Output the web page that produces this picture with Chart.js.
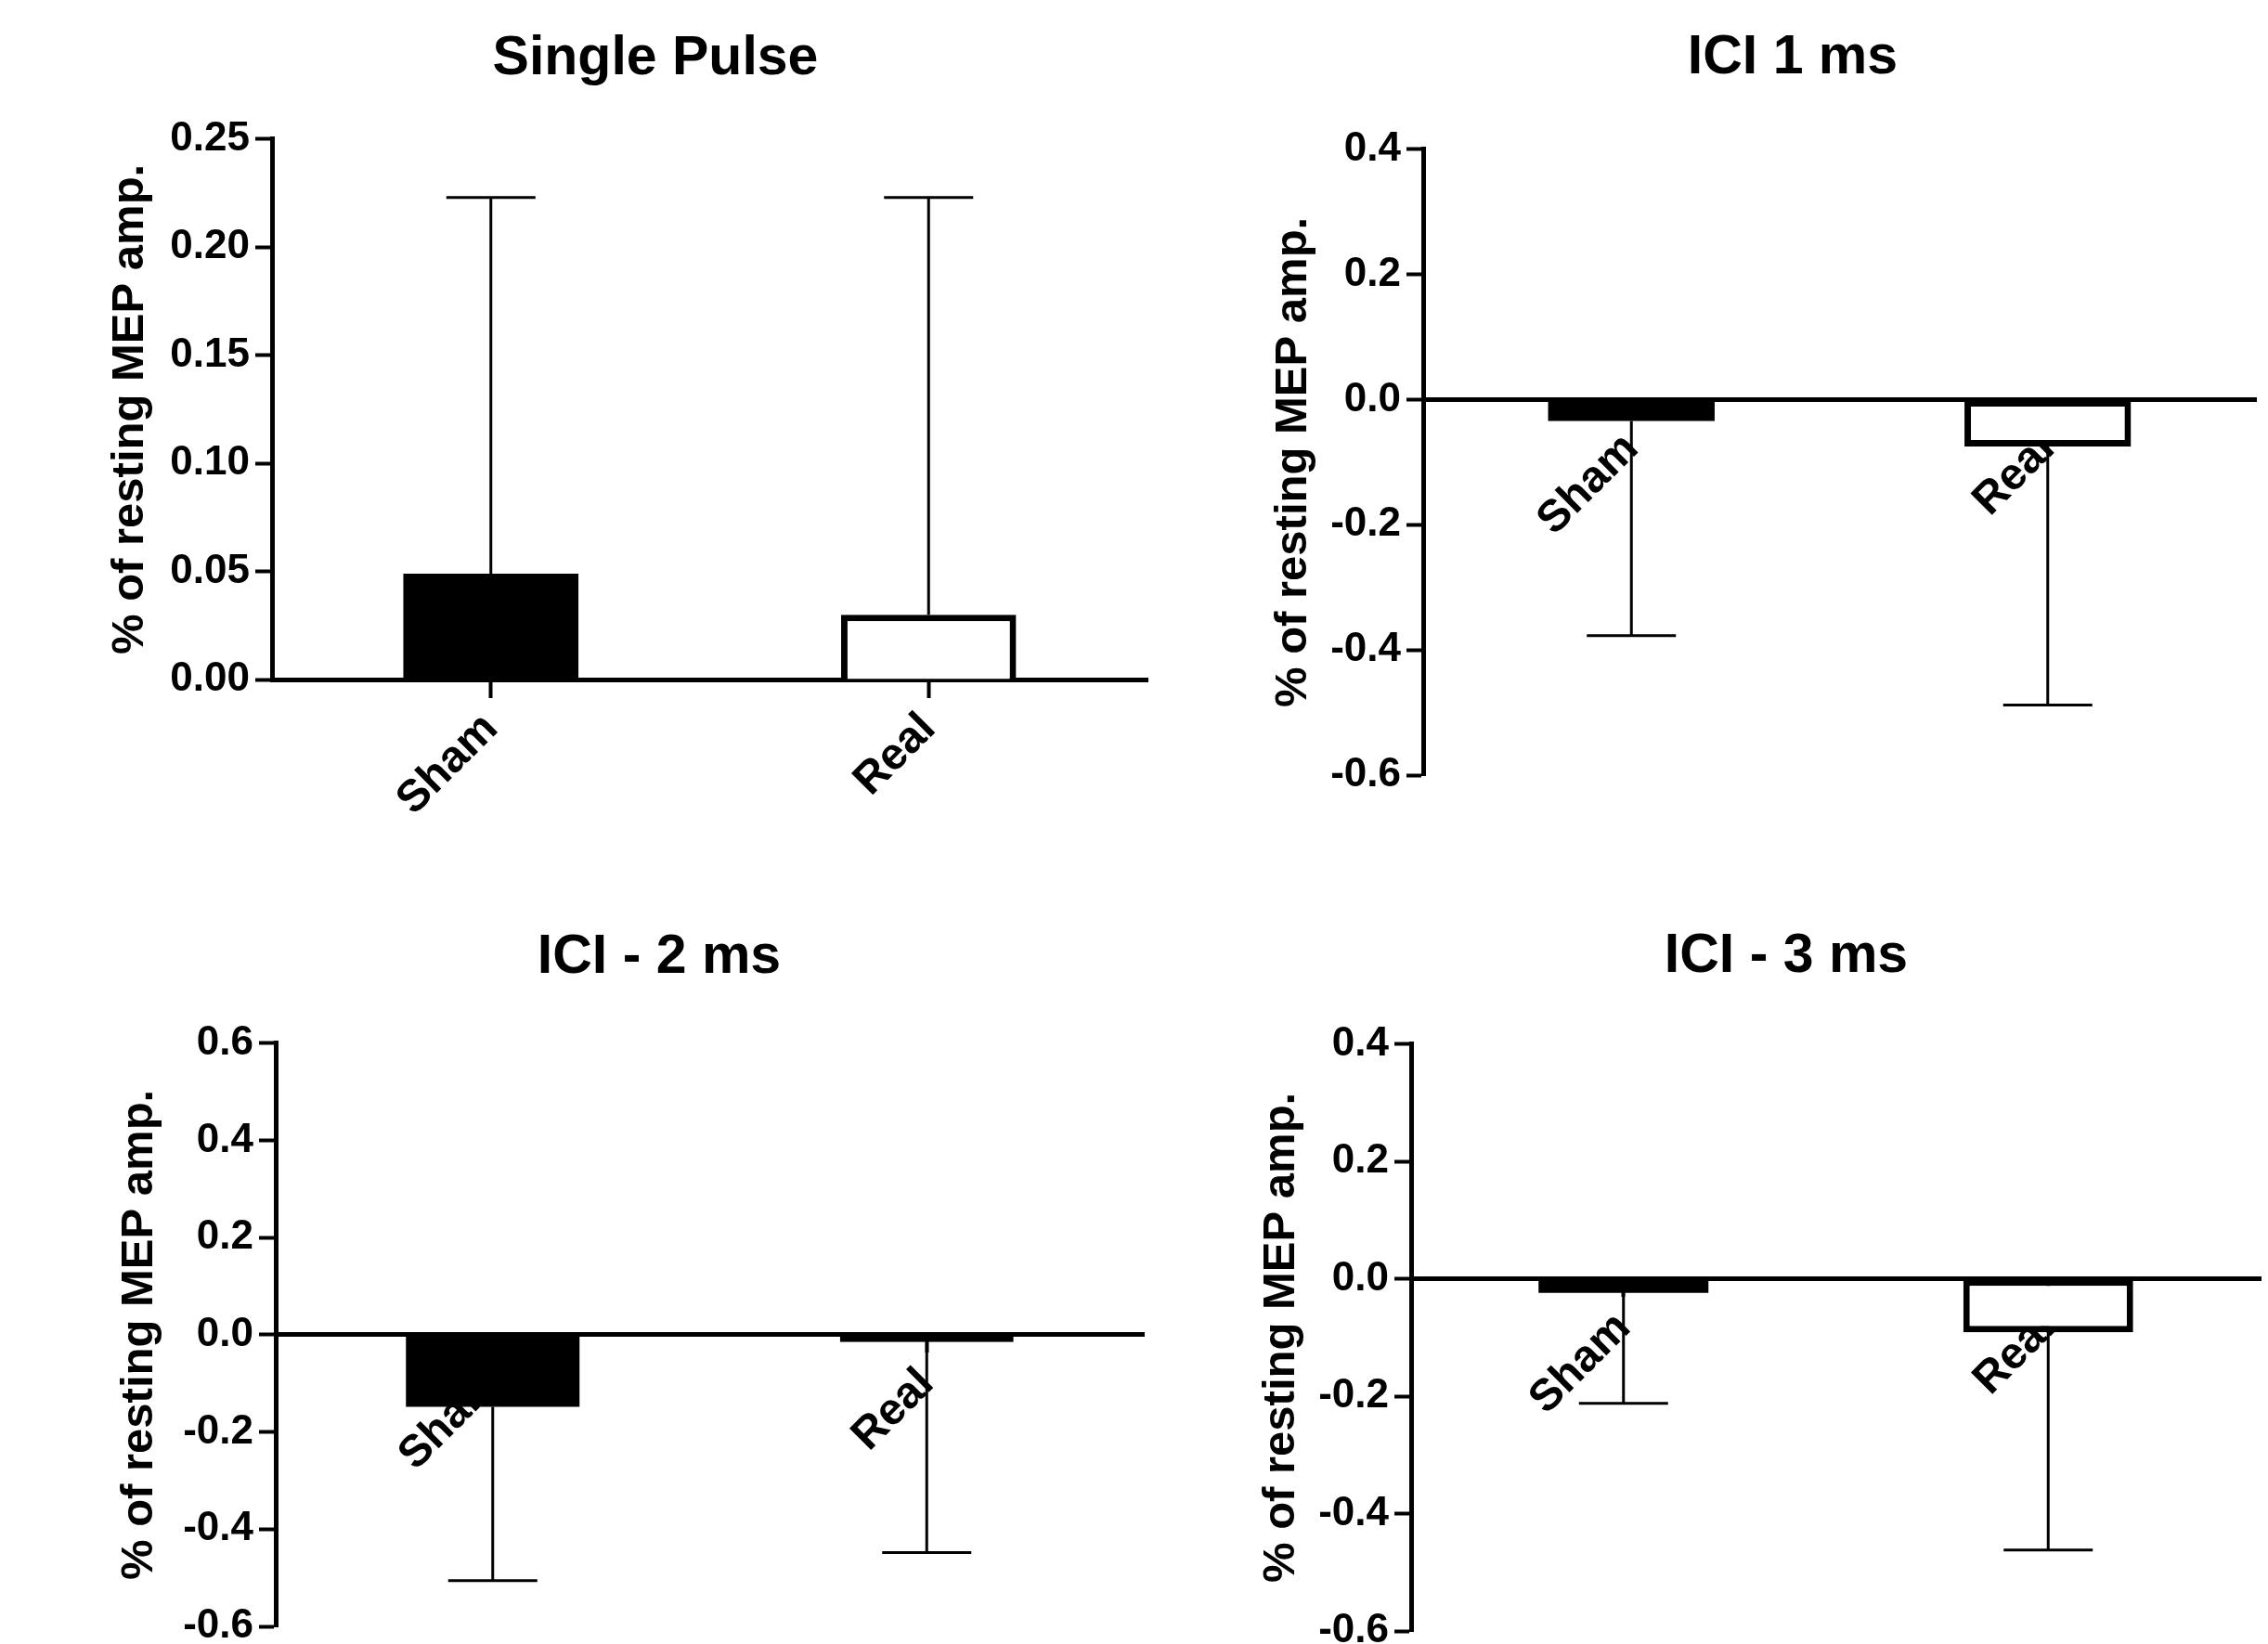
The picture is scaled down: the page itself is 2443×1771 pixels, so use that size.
<!DOCTYPE html>
<html lang="en">
<head>
<meta charset="UTF-8">
<title>MEP amplitude - Sham vs Real</title>
<script src="https://cdn.jsdelivr.net/npm/chart.js"></script>
<style>
  body { margin: 0; width: 2443px; height: 1771px; overflow: hidden; background: #fff; position: relative; }
  canvas { position: absolute; }
</style>
</head>
<body>
<canvas id="g1" width="1412" height="912" style="left:0px;top:0px"></canvas>
<canvas id="g2" width="1262" height="895" style="left:1300px;top:0px"></canvas>
<canvas id="g3" width="1420" height="862" style="left:0px;top:950px"></canvas>
<canvas id="g4" width="1248" height="867" style="left:1300px;top:950px"></canvas>

<script>
// data
const categories = ['Sham', 'Real'];
const yTitle = '% of resting MEP amp.';

const meanSingle = [0.049, 0.030];
const errSingle = [0.174, 0.193];
const ticksSingle = [0, 0.05, 0.10, 0.15, 0.20, 0.25];

const mean1ms = [-0.034, -0.075];
const err1ms = [0.343, 0.413];
const ticks1ms = [-0.6, -0.4, -0.2, 0, 0.2, 0.4];

const mean2ms = [-0.148, -0.015];
const err2ms = [0.358, 0.433];
const ticks2ms = [-0.6, -0.4, -0.2, 0, 0.2, 0.4, 0.6];

const mean3ms = [-0.024, -0.091];
const err3ms = [0.188, 0.371];
const ticks3ms = [-0.6, -0.4, -0.2, 0, 0.2, 0.4];

Chart.defaults.font.family = "'Liberation Sans', Arial, sans-serif";
Chart.defaults.color = '#000';

// whiskers go away from zero, from the bar end
const errorBars = {
    id: 'errorBars',
    afterDatasetsDraw(chart, args, opts) {
        const ctx = chart.ctx;
        const y = chart.scales.y;
        const vals = chart.data.datasets[0].data;
        ctx.save();
        ctx.strokeStyle = '#000';
        ctx.lineWidth = 3;
        chart.getDatasetMeta(0).data.forEach((bar, i) => {
            const v = vals[i];
            const end = v >= 0 ? v + opts.errors[i] : v - opts.errors[i];
            const y0 = y.getPixelForValue(v);
            const y1 = y.getPixelForValue(end);
            ctx.beginPath();
            ctx.moveTo(bar.x, y0);
            ctx.lineTo(bar.x, y1);
            ctx.moveTo(bar.x - 48, y1);
            ctx.lineTo(bar.x + 48, y1);
            ctx.stroke();
        });
        ctx.restore();
    }
};

function makeChart(id, title, means, errs, tickVals, decimals, lay) {
    return new Chart(document.getElementById(id), {
        type: 'bar',
        data: {
            labels: categories,
            datasets: [{
                data: means,
                backgroundColor: ['#000', '#fff'],
                borderColor: '#000',
                borderWidth: [0, 7],
                // negative bars get a full outline (the very thin one turns solid)
                borderSkipped: c => c.raw >= 0 ? 'start' : false,
                barPercentage: 0.4,
                categoryPercentage: 1.0
            }]
        },
        options: {
            responsive: false,
            animation: false,
            // title is centred between padding.left and the right edge of the plot
            layout: { padding: { left: lay.padLeft, top: 0, right: lay.padRight, bottom: lay.padBottom } },
            plugins: {
                legend: { display: false },
                tooltip: { enabled: false },
                title: {
                    display: true,
                    text: title,
                    font: { size: 59, weight: 'bold' },
                    color: '#000',
                    padding: { top: lay.titleTop, bottom: lay.titleBottom }
                },
                errorBars: { errors: errs }
            },
            scales: {
                x: {
                    type: 'category',
                    position: { y: 0 },
                    offset: true,
                    z: 1,
                    grid: { offset: false, drawOnChartArea: false, drawTicks: true, tickLength: 17, tickWidth: 4, tickColor: '#000' },
                    border: { display: true, color: '#000', width: 5 },
                    ticks: { font: { size: 48, weight: 'bold' }, color: '#000', minRotation: 45, maxRotation: 45, padding: 8 }
                },
                y: {
                    min: tickVals[0],
                    max: tickVals[tickVals.length - 1],
                    afterBuildTicks: s => { s.ticks = tickVals.map(v => ({ value: v })); },
                    afterFit: s => { s.width = lay.yWidth; },
                    grid: { drawOnChartArea: false, drawTicks: true, tickLength: 18, tickWidth: 4, tickColor: '#000' },
                    border: { display: true, color: '#000', width: 5 },
                    ticks: {
                        font: { size: 44, weight: 'bold' },
                        color: '#000',
                        padding: 6,
                        callback: v => Number(v).toFixed(decimals)
                    },
                    title: {
                        display: true,
                        text: yTitle,
                        font: { size: 49, weight: 'bold' },
                        color: '#000',
                        // negative: the axis title sits left of the layout padding
                        padding: { top: lay.yTitlePad, bottom: 0 }
                    }
                }
            }
        },
        plugins: [errorBars]
    });
}

makeChart('g1', 'Single Pulse', meanSingle, errSingle, ticksSingle, 2,
    { padLeft: 176, padRight: 176, padBottom: 180, titleTop: 28, titleBottom: 51, yWidth: 117, yTitlePad: -65 });
makeChart('g2', 'ICI 1 ms', mean1ms, err1ms, ticks1ms, 1,
    { padLeft: 132, padRight: 132, padBottom: 60, titleTop: 27, titleBottom: 63, yWidth: 101, yTitlePad: -68 });
makeChart('g3', 'ICI - 2 ms', mean2ms, err2ms, ticks2ms, 1,
    { padLeft: 188, padRight: 188, padBottom: 60, titleTop: 46, titleBottom: 57, yWidth: 109, yTitlePad: -67 });
makeChart('g4', 'ICI - 3 ms', mean3ms, err3ms, ticks3ms, 1,
    { padLeft: 113, padRight: 113, padBottom: 60, titleTop: 45, titleBottom: 59, yWidth: 107, yTitlePad: -62 });
</script>
</body>
</html>
